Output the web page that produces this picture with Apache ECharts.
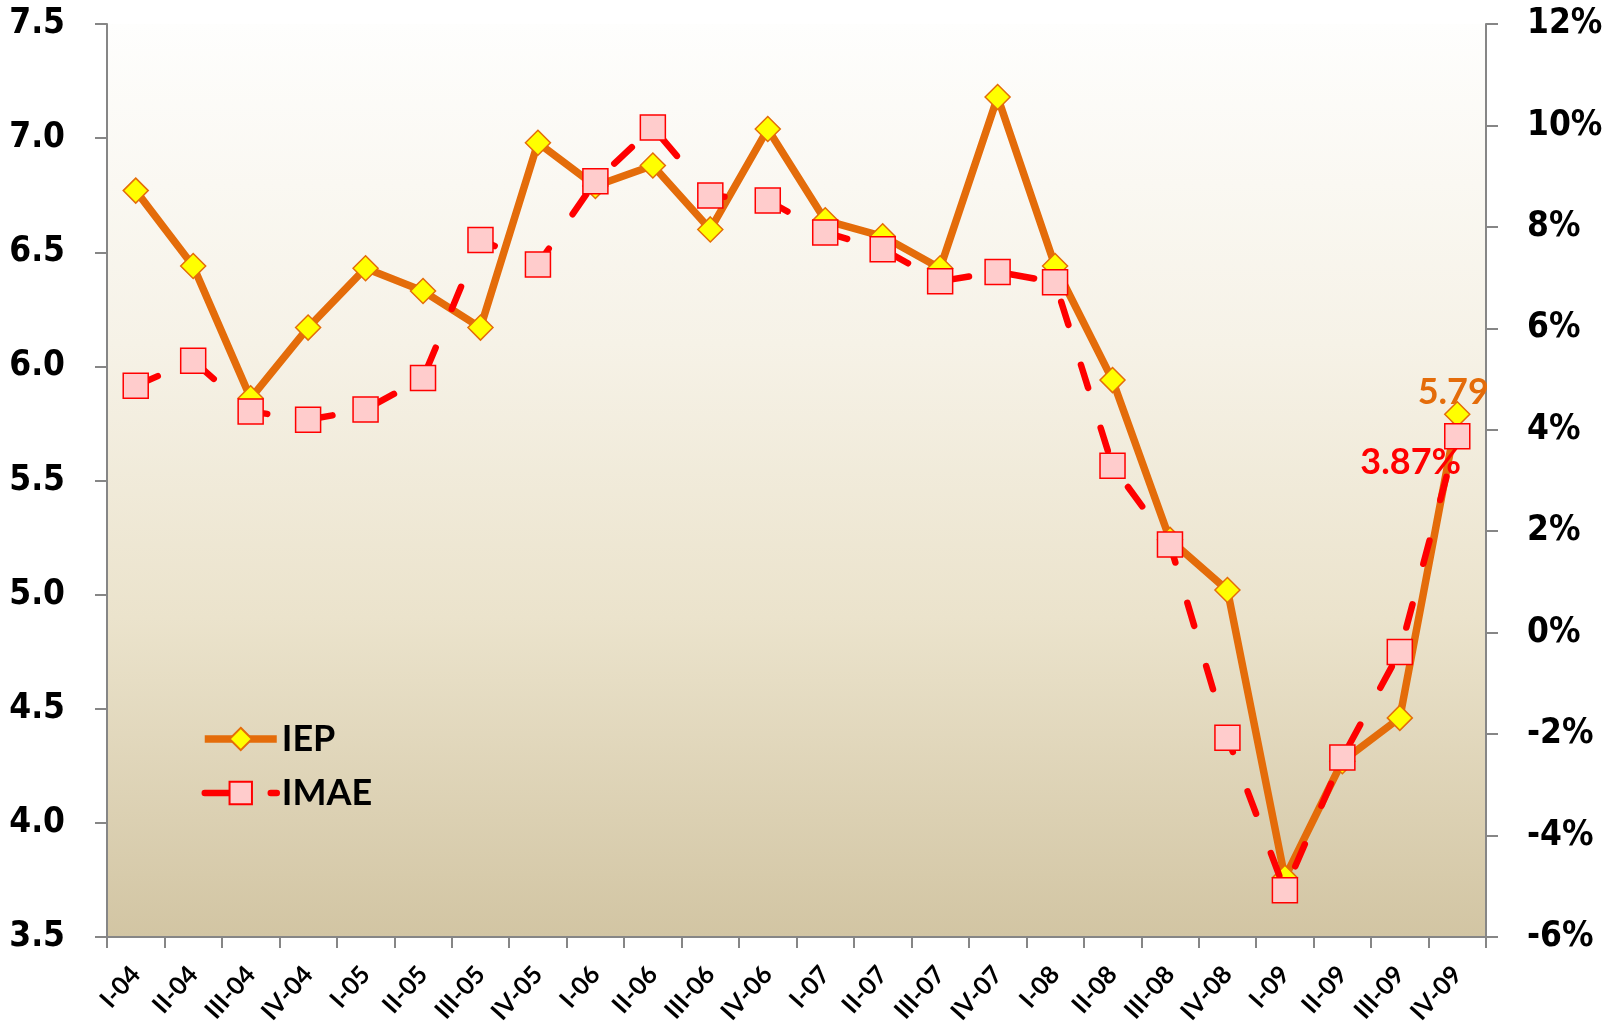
<!DOCTYPE html>
<html>
<head>
<meta charset="utf-8">
<script src="https://cdn.jsdelivr.net/npm/echarts@6/dist/echarts.min.js"></script>
<style>
  html, body { margin: 0; padding: 0; background: #ffffff; }
  #chart { width: 1620px; height: 1024px; }
</style>
</head>
<body>
<div id="chart"></div>
<script>
const categories = ['I-04','II-04','III-04','IV-04','I-05','II-05','III-05','IV-05',
  'I-06','II-06','III-06','IV-06','I-07','II-07','III-07','IV-07',
  'I-08','II-08','III-08','IV-08','I-09','II-09','III-09','IV-09'];

const iep = [6.77, 6.44, 5.86, 6.17, 6.43, 6.33, 6.17, 6.98,
  6.79, 6.88, 6.60, 7.04, 6.64, 6.57, 6.43, 7.18,
  6.44, 5.94, 5.24, 5.02, 3.76, 4.27, 4.46, 5.79];

const imae = [4.87, 5.36, 4.36, 4.20, 4.40, 5.02, 7.74, 7.26,
  8.90, 9.96, 8.62, 8.52, 7.89, 7.56, 6.93, 7.11,
  6.91, 3.29, 1.74, -2.07, -5.08, -2.46, -0.38, 3.87];

const leftTicks = { min: 3.5, max: 7.5, interval: 0.5 };
const rightTicks = { min: -6, max: 12, interval: 2 };

const chart = echarts.init(document.getElementById('chart'), null, { renderer: 'canvas' });

const axisColor = '#868686';
const orange = '#e46c0a';
const red = '#ff0000';
const axisFont = "'DejaVu Sans Condensed', 'DejaVu Sans'";

const lastIdx = categories.length - 1;
const iepData = iep.map((v, i) => i === lastIdx ? {
  value: v,
  label: {
    show: true, position: 'top', offset: [-4, 14],
    formatter: (p) => p.value.toFixed(2),
    color: orange, fontFamily: 'Lato', fontWeight: 'bold', fontSize: 36
  }
} : v);
const imaeData = imae.map((v, i) => i === lastIdx ? {
  value: v,
  label: {
    show: true, position: 'left', offset: [22, 26],
    formatter: (p) => p.value.toFixed(2) + '%',
    color: red, fontFamily: 'Lato', fontWeight: 'bold', fontSize: 36
  }
} : v);

const iepLine = { color: orange, width: 7.5 };
const imaeLine = { color: red, width: 6.5, type: [24, 42], cap: 'round' };

chart.setOption({
  animation: false,
  backgroundColor: '#ffffff',
  grid: {
    left: 107, right: 134, top: 24, bottom: 87,
    outerBoundsMode: 'none', containLabel: false,
    show: true, borderWidth: 0,
    backgroundColor: {
      type: 'linear', x: 0, y: 0, x2: 0, y2: 1,
      colorStops: [
        { offset: 0, color: '#fefefd' },
        { offset: 0.35, color: '#f6f2e7' },
        { offset: 0.65, color: '#ebe3cc' },
        { offset: 1, color: '#d2c5a3' }
      ]
    }
  },
  legend: {
    orient: 'vertical',
    left: 201, top: 721, padding: 0,
    itemWidth: 72, itemHeight: 28, itemGap: 18,
    textStyle: { fontFamily: 'Lato', fontWeight: 'bold', fontSize: 36, color: '#000' },
    data: [
      { name: 'IEP', lineStyle: iepLine },
      { name: 'IMAE', lineStyle: imaeLine }
    ]
  },
  xAxis: {
    type: 'category',
    data: categories,
    boundaryGap: true,
    axisLine: { onZero: false, lineStyle: { color: axisColor, width: 2 } },
    axisTick: { show: true, length: 11, lineStyle: { color: axisColor, width: 2 } },
    axisLabel: {
      interval: 0, rotate: 48, margin: 33,
      fontFamily: 'Lato', fontWeight: 'bold', fontSize: 25, color: '#000'
    },
    splitLine: { show: false }
  },
  yAxis: [
    {
      type: 'value', position: 'left',
      min: leftTicks.min, max: leftTicks.max, interval: leftTicks.interval,
      axisLine: { show: true, lineStyle: { color: axisColor, width: 2 } },
      axisTick: { show: true, length: 12, lineStyle: { color: axisColor, width: 2 } },
      axisLabel: {
        margin: 42, formatter: (v) => v.toFixed(1),
        fontFamily: axisFont, fontWeight: 'bold', fontSize: 35, color: '#000'
      },
      splitLine: { show: false }
    },
    {
      type: 'value', position: 'right',
      min: rightTicks.min, max: rightTicks.max, interval: rightTicks.interval,
      axisLine: { show: true, lineStyle: { color: axisColor, width: 2 } },
      axisTick: { show: true, length: 12, lineStyle: { color: axisColor, width: 2 } },
      axisLabel: {
        margin: 41, formatter: (v) => v + '%',
        fontFamily: axisFont, fontWeight: 'bold', fontSize: 35, color: '#000'
      },
      splitLine: { show: false }
    }
  ],
  series: [
    {
      name: 'IEP', type: 'line', yAxisIndex: 0,
      data: iepData,
      symbol: 'diamond', symbolSize: 25,
      lineStyle: iepLine,
      itemStyle: { color: '#ffff00', borderColor: orange, borderWidth: 1.5 },
      z: 2
    },
    {
      name: 'IMAE', type: 'line', yAxisIndex: 1,
      data: imaeData,
      symbol: 'rect', symbolSize: 25,
      lineStyle: imaeLine,
      itemStyle: { color: '#ffcccc', borderColor: red, borderWidth: 1.5 },
      z: 3
    }
  ]
});
</script>
</body>
</html>
